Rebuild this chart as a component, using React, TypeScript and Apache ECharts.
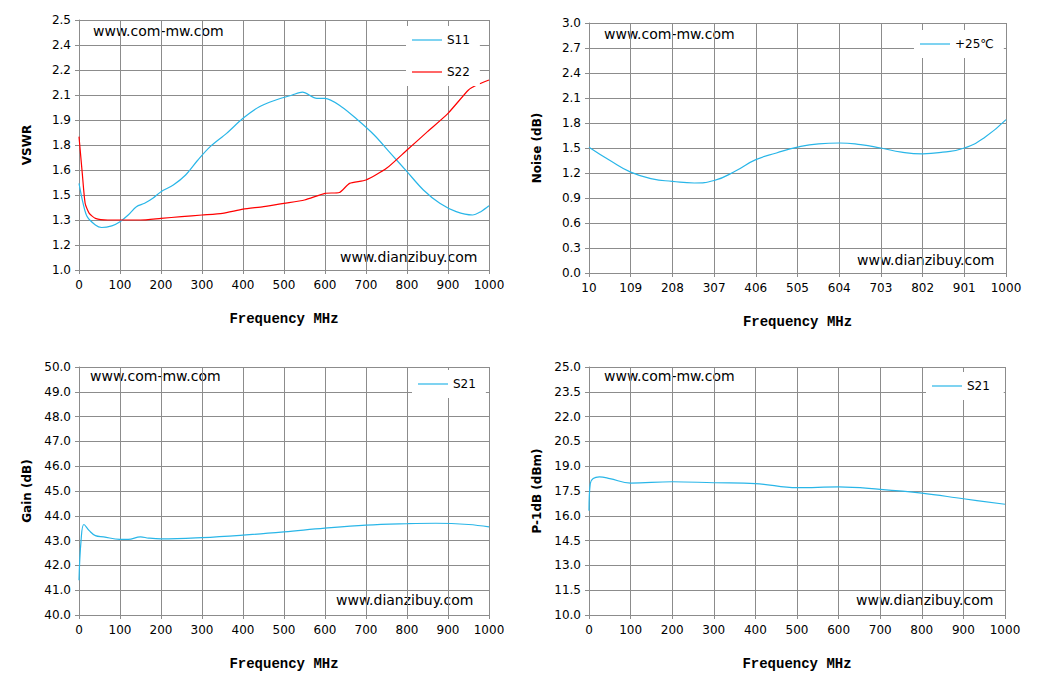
import React, { useEffect, useRef } from 'react';
import * as echarts from 'echarts';

// VSWR (top-left)
const s11Freq = [0, 10, 20, 40, 55, 80, 100, 120, 140, 160, 180, 200, 230, 260, 290, 320, 360, 400, 440, 480, 520, 545, 580, 600, 640, 680, 720, 760, 800, 840, 880, 920, 960, 980, 1000];
const s11Vals = [1.52, 1.4, 1.32, 1.27, 1.255, 1.265, 1.29, 1.33, 1.38, 1.4, 1.43, 1.47, 1.51, 1.57, 1.66, 1.74, 1.82, 1.91, 1.98, 2.02, 2.05, 2.067, 2.03, 2.03, 1.98, 1.9, 1.81, 1.7, 1.59, 1.48, 1.4, 1.35, 1.33, 1.35, 1.385];
const s22Freq = [0, 8, 15, 25, 40, 70, 100, 150, 200, 250, 300, 350, 400, 450, 500, 550, 600, 635, 660, 700, 750, 800, 850, 900, 950, 970, 1000];
const s22Vals = [1.8, 1.58, 1.4, 1.34, 1.31, 1.3, 1.3, 1.3, 1.31, 1.32, 1.33, 1.34, 1.365, 1.38, 1.4, 1.42, 1.46, 1.465, 1.52, 1.54, 1.61, 1.72, 1.83, 1.94, 2.08, 2.11, 2.14];
const vswrTickLabels = ['1.0', '1.2', '1.3', '1.5', '1.6', '1.8', '1.9', '2.1', '2.2', '2.4', '2.5'];

// Noise (top-right)
const noiseFreq = [10, 60, 109, 160, 208, 260, 307, 360, 406, 455, 505, 555, 604, 655, 703, 752, 802, 850, 901, 950, 1000];
const noiseVals = [1.51, 1.35, 1.21, 1.13, 1.1, 1.08, 1.11, 1.23, 1.36, 1.44, 1.51, 1.55, 1.56, 1.54, 1.5, 1.45, 1.43, 1.45, 1.5, 1.63, 1.84];

// Gain (bottom-left)
const gainFreq = [0, 5, 12, 25, 40, 60, 100, 120, 150, 170, 200, 300, 400, 500, 600, 700, 800, 870, 950, 1000];
const gainVals = [41.4, 43.0, 43.65, 43.4, 43.2, 43.15, 43.05, 43.05, 43.15, 43.1, 43.07, 43.12, 43.22, 43.35, 43.5, 43.62, 43.68, 43.7, 43.65, 43.55];

// P-1dB (bottom-right)
const p1Freq = [0, 3, 10, 25, 50, 100, 200, 300, 400, 500, 600, 700, 800, 900, 1000];
const p1Vals = [16.3, 17.95, 18.25, 18.35, 18.25, 17.98, 18.06, 18.0, 17.95, 17.7, 17.75, 17.6, 17.37, 17.03, 16.7];

const FONT = 'DejaVu Sans';
const GRID_COLOR = '#8c8c8c';
const BLUE = '#29b6e8';
const RED = '#ff0000';

const zip = (xs: number[], ys: number[], off = 0) => xs.map((x, i) => [x - off, ys[i]]);

const grids = [
  { left: 79, top: 20, width: 410, height: 250 },
  { left: 589, top: 23, width: 417, height: 250 },
  { left: 79, top: 367, width: 410, height: 248 },
  { left: 589, top: 367, width: 416, height: 248 },
];

const xAxisFor = (gridIndex: number, max: number, interval: number, fmt: (v: number) => string) => ({
  type: 'value',
  gridIndex,
  min: 0,
  max,
  interval,
  name: 'Frequency MHz',
  nameLocation: 'middle',
  nameGap: 42,
  nameTextStyle: { fontFamily: 'Liberation Mono', fontWeight: 'bold', fontSize: 14, color: '#000' },
  axisLine: { show: true, lineStyle: { color: GRID_COLOR } },
  axisTick: { show: true, length: 4, lineStyle: { color: GRID_COLOR } },
  axisLabel: { fontFamily: FONT, fontSize: 12, color: '#000', margin: 9, formatter: fmt },
  splitLine: { show: true, lineStyle: { color: GRID_COLOR } },
});

const yAxisFor = (gridIndex: number, name: string, min: number, max: number, interval: number, fmt: (v: number) => string) => ({
  type: 'value',
  gridIndex,
  min,
  max,
  interval,
  name,
  nameLocation: 'middle',
  nameGap: 46,
  nameTextStyle: { fontFamily: FONT, fontWeight: 'bold', fontSize: 12, color: '#000' },
  axisLine: { show: true, lineStyle: { color: GRID_COLOR } },
  axisTick: { show: true, length: 4, lineStyle: { color: GRID_COLOR } },
  axisLabel: { fontFamily: FONT, fontSize: 12, color: '#000', margin: 8, formatter: fmt },
  splitLine: { show: true, lineStyle: { color: GRID_COLOR } },
});

const lineSeries = (name: string, idx: number, data: number[][], color: string, smooth: boolean | number = false) => ({
  type: 'line',
  name,
  xAxisIndex: idx,
  yAxisIndex: idx,
  data,
  smooth,
  showSymbol: false,
  symbol: 'none',
  lineStyle: { color, width: 1.2 },
  itemStyle: { color },
});

const legendFor = (names: string[], left: number, top: number) => ({
  data: names.map((n) => ({ name: n, icon: 'rect' })),
  orient: 'vertical',
  left,
  top,
  itemWidth: 30,
  itemHeight: 1.2,
  itemGap: 20,
  padding: [8, 10, 8, 6],
  backgroundColor: '#fff',
  textStyle: { fontFamily: FONT, fontSize: 12, color: '#000' },
});

const watermark = (text: string, x: number, y: number) => ({
  type: 'text',
  left: x,
  top: y,
  style: { text, fontFamily: FONT, fontSize: 14, fill: '#000' },
});

export default function App() {
  const ref = useRef<HTMLDivElement>(null);

  useEffect(() => {
    if (!ref.current) return;
    const chart = echarts.init(ref.current, null, { renderer: 'svg' });
    const vswrStep = 0.15;
    const plain = (v: number) => String(v);
    chart.setOption({
      animation: false,
      backgroundColor: '#fff',
      grid: grids,
      xAxis: [
        xAxisFor(0, 1000, 100, plain),
        xAxisFor(1, 990, 99, (v: number) => String(v + 10)),
        xAxisFor(2, 1000, 100, plain),
        xAxisFor(3, 1000, 100, plain),
      ],
      yAxis: [
        yAxisFor(0, 'VSWR', 0, 1.5, vswrStep, (v: number) => vswrTickLabels[Math.round(v / vswrStep)] ?? ''),
        yAxisFor(1, 'Noise (dB)', 0, 3, 0.3, (v: number) => v.toFixed(1)),
        yAxisFor(2, 'Gain (dB)', 40, 50, 1, (v: number) => v.toFixed(1)),
        yAxisFor(3, 'P-1dB (dBm)', 10, 25, 1.5, (v: number) => v.toFixed(1)),
      ],
      legend: [
        legendFor(['S11', 'S22'], 406, 26),
        legendFor(['+25℃'], 914, 30),
        legendFor(['S21'], 412, 370),
        legendFor(['S21 '], 926, 372),
      ],
      series: [
        lineSeries('S11', 0, zip(s11Freq, s11Vals).map(([x, y]) => [x, y - 1]), BLUE, 0.3),
        lineSeries('S22', 0, zip(s22Freq, s22Vals).map(([x, y]) => [x, y - 1]), RED, 0.2),
        lineSeries('+25℃', 1, zip(noiseFreq, noiseVals, 10), BLUE, 0.5),
        lineSeries('S21', 2, zip(gainFreq, gainVals), BLUE, 0.4),
        lineSeries('S21 ', 3, zip(p1Freq, p1Vals), BLUE, 0.4),
      ],
      graphic: [
        watermark('www.com-mw.com', 93, 24),
        watermark('www.dianzibuy.com', 340, 250),
        watermark('www.com-mw.com', 604, 27),
        watermark('www.dianzibuy.com', 857, 253),
        watermark('www.com-mw.com', 90, 369),
        watermark('www.dianzibuy.com', 336, 593),
        watermark('www.com-mw.com', 604, 369),
        watermark('www.dianzibuy.com', 856, 593),
      ],
    });
    return () => chart.dispose();
  }, []);

  return (
    <div style={{ position: 'absolute', left: 0, top: 0, width: 1041, height: 692, background: '#fff' }}>
      <div ref={ref} style={{ width: 1041, height: 692 }} />
    </div>
  );
}
